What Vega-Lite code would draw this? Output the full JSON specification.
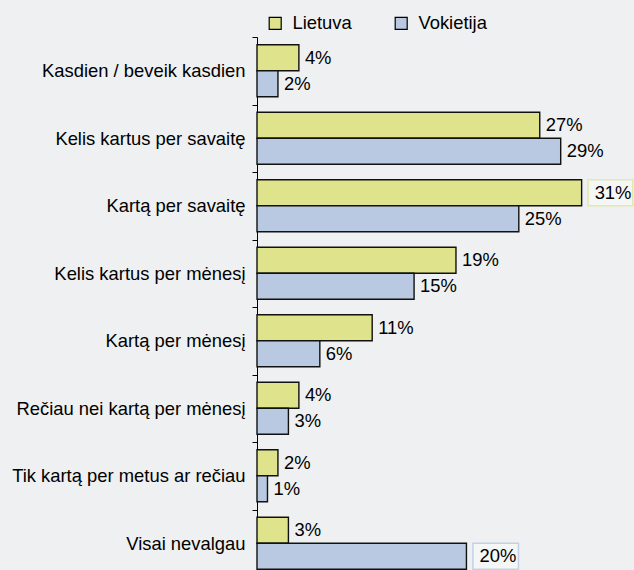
{
  "$schema": "https://vega.github.io/schema/vega-lite/v6.json",
  "width": 377,
  "height": 540,
  "autosize": {"type": "none"},
  "padding": {"left": 257, "top": 37, "right": 0, "bottom": 0},
  "background": "#eef0f1",
  "config": {
    "view": {"stroke": null},
    "font": "Liberation Sans"
  },
  "data": {
    "values": [
      {"category": "Kasdien / beveik kasdien", "series": "Lietuva", "value": 0.04},
      {"category": "Kasdien / beveik kasdien", "series": "Vokietija", "value": 0.02},
      {"category": "Kelis kartus per savaitę", "series": "Lietuva", "value": 0.27},
      {"category": "Kelis kartus per savaitę", "series": "Vokietija", "value": 0.29},
      {"category": "Kartą per savaitę", "series": "Lietuva", "value": 0.31},
      {"category": "Kartą per savaitę", "series": "Vokietija", "value": 0.25},
      {"category": "Kelis kartus per mėnesį", "series": "Lietuva", "value": 0.19},
      {"category": "Kelis kartus per mėnesį", "series": "Vokietija", "value": 0.15},
      {"category": "Kartą per mėnesį", "series": "Lietuva", "value": 0.11},
      {"category": "Kartą per mėnesį", "series": "Vokietija", "value": 0.06},
      {"category": "Rečiau nei kartą per mėnesį", "series": "Lietuva", "value": 0.04},
      {"category": "Rečiau nei kartą per mėnesį", "series": "Vokietija", "value": 0.03},
      {"category": "Tik kartą per metus ar rečiau", "series": "Lietuva", "value": 0.02},
      {"category": "Tik kartą per metus ar rečiau", "series": "Vokietija", "value": 0.01},
      {"category": "Visai nevalgau", "series": "Lietuva", "value": 0.03},
      {"category": "Visai nevalgau", "series": "Vokietija", "value": 0.20}
    ]
  },
  "encoding": {
    "y": {
      "field": "category",
      "type": "nominal",
      "sort": ["Kasdien / beveik kasdien", "Kelis kartus per savaitę", "Kartą per savaitę", "Kelis kartus per mėnesį", "Kartą per mėnesį", "Rečiau nei kartą per mėnesį", "Tik kartą per metus ar rečiau", "Visai nevalgau"],
      "scale": {"paddingInner": 0, "paddingOuter": 0},
      "axis": {
        "title": null,
        "tickBand": "extent",
        "domainColor": "#000",
        "tickColor": "#000",
        "tickSize": 5,
        "labelFontSize": 18.4,
        "labelColor": "#000",
        "labelPadding": 7,
        "labelLimit": 300
      }
    },
    "yOffset": {
      "field": "series",
      "type": "nominal",
      "sort": ["Lietuva", "Vokietija"],
      "scale": {"paddingInner": 0, "paddingOuter": 0.3}
    },
    "x": {
      "field": "value",
      "type": "quantitative",
      "scale": {"domain": [0, 0.36], "nice": false},
      "axis": null
    }
  },
  "layer": [
    {
      "mark": {"type": "bar", "stroke": "#111111", "strokeWidth": 1.4},
      "encoding": {
        "color": {
          "field": "series",
          "type": "nominal",
          "scale": {"domain": ["Lietuva", "Vokietija"], "range": ["#dfe38b", "#b9c9e1"]},
          "legend": {
            "title": null,
            "orient": "none",
            "direction": "horizontal",
            "legendX": 9,
            "legendY": -23,
            "symbolType": "square",
            "symbolSize": 144,
            "symbolOpacity": 1,
            "symbolStrokeColor": "#000",
            "symbolStrokeWidth": 1.2,
            "labelFontSize": 18.4,
            "labelColor": "#000",
            "labelOffset": 8,
            "columnPadding": 40
          }
        }
      }
    },
    {
      "transform": [{"filter": "datum.category == 'Kartą per savaitę' && datum.series == 'Lietuva'"}],
      "mark": {"type": "rect", "fill": "#f5f6f6", "stroke": "#e3e9ad", "strokeWidth": 1.5, "xOffset": 6.5, "x2Offset": 51, "yOffset": -1, "y2Offset": 1},
      "encoding": {"x2": {"field": "value"}}
    },
    {
      "transform": [{"filter": "datum.category == 'Visai nevalgau' && datum.series == 'Vokietija'"}],
      "mark": {"type": "rect", "fill": "#f5f6f6", "stroke": "#c3d1e8", "strokeWidth": 1.5, "xOffset": 6.5, "x2Offset": 52, "yOffset": -1, "y2Offset": 1},
      "encoding": {"x2": {"field": "value"}}
    },
    {
      "transform": [{"filter": "!((datum.category == 'Kartą per savaitę' && datum.series == 'Lietuva') || (datum.category == 'Visai nevalgau' && datum.series == 'Vokietija'))"}],
      "mark": {"type": "text", "align": "left", "baseline": "middle", "dx": 6, "fontSize": 18.4, "color": "#000"},
      "encoding": {"text": {"field": "value", "type": "quantitative", "format": ".0%"}}
    },
    {
      "transform": [{"filter": "(datum.category == 'Kartą per savaitę' && datum.series == 'Lietuva') || (datum.category == 'Visai nevalgau' && datum.series == 'Vokietija')"}],
      "mark": {"type": "text", "align": "left", "baseline": "middle", "dx": 13, "fontSize": 18.4, "color": "#000"},
      "encoding": {"text": {"field": "value", "type": "quantitative", "format": ".0%"}}
    }
  ]
}
